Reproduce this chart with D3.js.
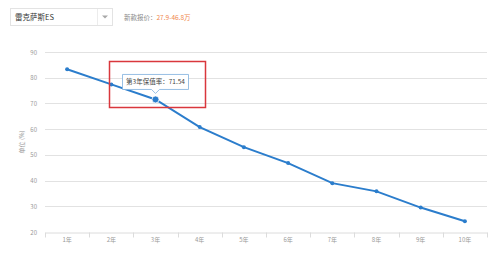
<!DOCTYPE html>
<html>
<head>
<meta charset="utf-8">
<script src="https://cdn.jsdelivr.net/npm/d3@7"></script>
<style>
  body { margin: 0; background: #fff; font-family: "Noto Sans CJK SC", "Noto Sans", sans-serif; }
  svg { display: block; }
</style>
</head>
<body>
<svg id="chart" width="500" height="256"></svg>
<script>
// chart data
var years = ["1年", "2年", "3年", "4年", "5年", "6年", "7年", "8年", "9年", "10年"];
var rates = [83.3, 77.4, 71.54, 60.8, 53.0, 46.8, 39.0, 35.8, 29.5, 24.2];
var yTicks = [20, 30, 40, 50, 60, 70, 80, 90];
var carName = "雷克萨斯ES";
var priceLabel = "新款报价：";
var priceValue = "27.9-46.8万";
var hoverIndex = 2;

var svg = d3.select("#chart");

var margin = {left: 45, right: 13, top: 52, bottom: 24};
var width = 500, height = 256;

var x = d3.scaleBand().domain(years).range([margin.left, width - margin.right]);
var y = d3.scaleLinear().domain([20, 90]).range([height - margin.bottom, margin.top]);

// header: select box + price
var head = svg.append("g");
head.append("rect")
  .attr("x", 10.5).attr("y", 8.5).attr("width", 102).attr("height", 17)
  .attr("fill", "#fff").attr("stroke", "#e3e3e3");
head.append("line")
  .attr("x1", 97.5).attr("x2", 97.5).attr("y1", 9).attr("y2", 25)
  .attr("stroke", "#ececec");
head.append("path")
  .attr("d", "M102,15.5 L108,15.5 L105,18.5 Z")
  .attr("fill", "#a8a8a8");
head.append("text")
  .attr("x", 15).attr("y", 20)
  .attr("font-size", 7.5).attr("fill", "#333")
  .text(carName);
var price = head.append("text")
  .attr("x", 124).attr("y", 20)
  .attr("font-size", 6.5);
price.append("tspan").attr("fill", "#8a8a8a").text(priceLabel);
price.append("tspan").attr("fill", "#f0884e").text(priceValue);

// grid lines
svg.append("g")
  .selectAll("line")
  .data(yTicks.slice(1))
  .join("line")
  .attr("x1", margin.left).attr("x2", width - margin.right)
  .attr("y1", d => Math.round(y(d)) + 0.5).attr("y2", d => Math.round(y(d)) + 0.5)
  .attr("stroke", "#e2e2e2");

// y axis labels
svg.append("g")
  .selectAll("text")
  .data(yTicks)
  .join("text")
  .attr("x", 37).attr("y", d => y(d) + 2.5)
  .attr("text-anchor", "end")
  .attr("font-size", 6)
  .attr("fill", "#999")
  .text(d => d);

svg.append("text")
  .attr("transform", "translate(24," + y(55) + ") rotate(-90)")
  .attr("text-anchor", "middle")
  .attr("font-size", 6)
  .attr("fill", "#999")
  .text("单位 (%)");

// x axis
var xAxis = d3.axisBottom(x).tickSize(0).tickSizeOuter(0);
var gx = svg.append("g")
  .attr("transform", "translate(0," + (Math.round(y(20)) + 0.5) + ")")
  .call(xAxis);
gx.select(".domain").attr("stroke", "#dcdcdc");
gx.selectAll("text").attr("font-size", 6).attr("fill", "#999").attr("dy", "1.1em")
  .attr("font-family", "\"Noto Sans CJK SC\", sans-serif");

// tick marks at band edges
var edges = years.map(d => x(d)).concat([width - margin.right]);
gx.selectAll(".edge")
  .data(edges)
  .join("line")
  .attr("class", "edge")
  .attr("x1", d => Math.round(d) + 0.5).attr("x2", d => Math.round(d) + 0.5)
  .attr("y1", 0).attr("y2", 5)
  .attr("stroke", "#dcdcdc");

// line series
var cx = d => x(d) + x.bandwidth() / 2;
var line = d3.line()
  .x((d, i) => cx(years[i]))
  .y(d => y(d));

svg.append("path")
  .datum(rates)
  .attr("d", line)
  .attr("fill", "none")
  .attr("stroke", "#2b7dcc")
  .attr("stroke-width", 2);

svg.append("g")
  .selectAll("circle")
  .data(rates)
  .join("circle")
  .attr("cx", (d, i) => cx(years[i]))
  .attr("cy", d => y(d))
  .attr("r", (d, i) => i === hoverIndex ? 3.5 : 2)
  .attr("fill", "#2b7dcc")
  .attr("stroke", (d, i) => i === hoverIndex ? "#fff" : "none")
  .attr("stroke-width", 0.8);

// tooltip
var px = cx(years[hoverIndex]), py = y(rates[hoverIndex]);
var tip = svg.append("g");
var tw = 66, th = 15, tx = px - 33, ty = py - 25;
tip.append("path")
  .attr("d", "M" + tx + "," + ty + " h" + tw + " v" + th + " h" + (-(tw / 2 - 4)) +
    " l-4,4 l-4,-4 h" + (-(tw / 2 - 4)) + " Z")
  .attr("fill", "#fff")
  .attr("stroke", "#7fb0dd")
  .attr("stroke-width", 0.8);
tip.append("text")
  .attr("x", tx + tw / 2).attr("y", ty + 10)
  .attr("text-anchor", "middle")
  .attr("font-size", 6.5)
  .attr("fill", "#444")
  .text("第" + (hoverIndex + 1) + "年保值率：" + rates[hoverIndex]);

// red highlight box
svg.append("rect")
  .attr("x", 109.5).attr("y", 61.5).attr("width", 96).attr("height", 46)
  .attr("fill", "none")
  .attr("stroke", "#d9373c")
  .attr("stroke-width", 1.5);
</script>
</body>
</html>
